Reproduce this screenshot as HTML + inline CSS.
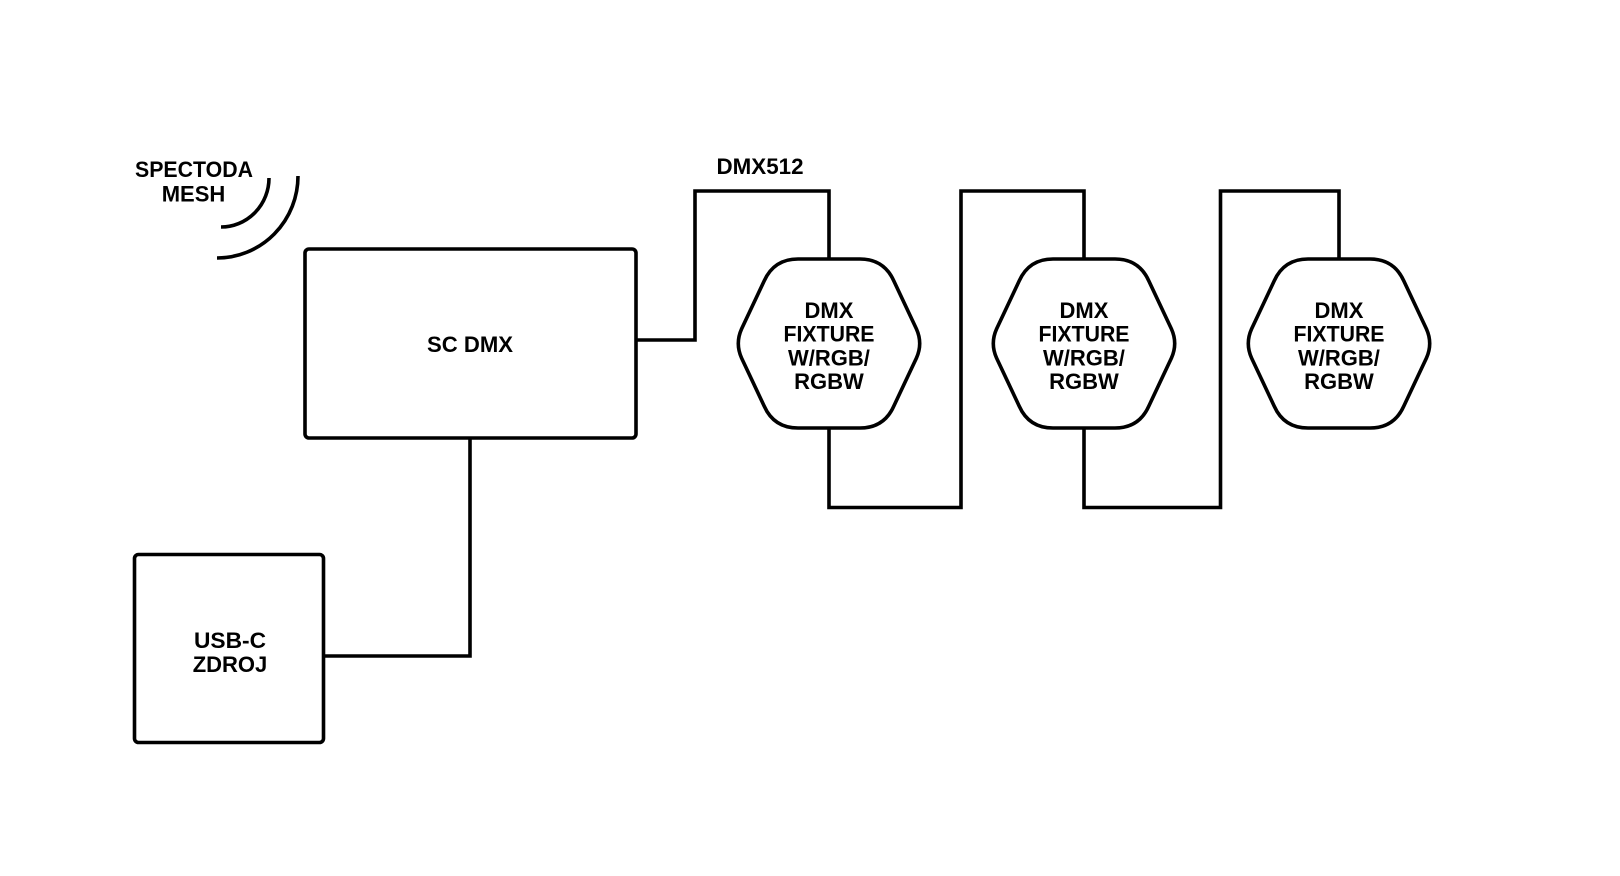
<!DOCTYPE html>
<html>
<head>
<meta charset="utf-8">
<style>
  html, body { margin: 0; padding: 0; background: #ffffff; }
  body { width: 1620px; height: 876px; overflow: hidden; }
  svg { display: block; }
  text { font-family: "Liberation Sans", Arial, sans-serif; font-weight: bold; font-size: 22px; fill: #000000; }
</style>
</head>
<body>
<svg width="1620" height="876" viewBox="0 0 1620 876" xmlns="http://www.w3.org/2000/svg">
  <rect x="0" y="0" width="1620" height="876" fill="#ffffff"/>

  <g fill="none" stroke="#000000" stroke-width="3.6" stroke-linejoin="miter" stroke-linecap="butt">
    <!-- wireless arcs -->
    <path d="M 298 176 A 81 82 0 0 1 217 258"/>
    <path d="M 269 178 A 48 49 0 0 1 221 227"/>

    <!-- SC DMX box -->
    <rect x="305" y="249" width="331" height="189" rx="4" ry="4"/>
    <!-- USB-C box -->
    <rect x="134.5" y="554.5" width="189" height="188" rx="4" ry="4"/>

    <!-- connectors -->
    <path d="M 636 340 H 695 V 191 H 829 V 259"/>
    <path d="M 829 428 V 507.5 H 961 V 191 H 1084 V 259"/>
    <path d="M 1084 428 V 507.5 H 1220.5 V 191 H 1339 V 259"/>
    <path d="M 470 438 V 656 H 323.5"/>

    <!-- hexagons -->
    <g transform="translate(829,0)">
      <path d="M -31 259 L 31 259 Q 55 259 64.8 280.9 L 87.4 328.9 Q 94 343.5 87.4 358.1 L 64.8 406.1 Q 55 428 31 428 L -31 428 Q -55 428 -64.8 406.1 L -87.4 358.1 Q -94 343.5 -87.4 328.9 L -64.8 280.9 Q -55 259 -31 259 Z"/>
    </g>
    <g transform="translate(1084,0)">
      <path d="M -31 259 L 31 259 Q 55 259 64.8 280.9 L 87.4 328.9 Q 94 343.5 87.4 358.1 L 64.8 406.1 Q 55 428 31 428 L -31 428 Q -55 428 -64.8 406.1 L -87.4 358.1 Q -94 343.5 -87.4 328.9 L -64.8 280.9 Q -55 259 -31 259 Z"/>
    </g>
    <g transform="translate(1339,0)">
      <path d="M -31 259 L 31 259 Q 55 259 64.8 280.9 L 87.4 328.9 Q 94 343.5 87.4 358.1 L 64.8 406.1 Q 55 428 31 428 L -31 428 Q -55 428 -64.8 406.1 L -87.4 358.1 Q -94 343.5 -87.4 328.9 L -64.8 280.9 Q -55 259 -31 259 Z"/>
    </g>
  </g>

  <!-- labels -->
  <g text-anchor="middle">
    <text x="194" y="177" textLength="118" lengthAdjust="spacingAndGlyphs">SPECTODA</text>
    <text x="193.5" y="201.5">MESH</text>

    <text x="760" y="174" textLength="87" lengthAdjust="spacingAndGlyphs">DMX512</text>

    <text x="470" y="352" textLength="86" lengthAdjust="spacingAndGlyphs">SC DMX</text>

    <text x="230" y="648" textLength="72" lengthAdjust="spacingAndGlyphs">USB-C</text>
    <text x="230" y="672">ZDROJ</text>

    <text x="829" y="318">DMX</text>
    <text x="829" y="341.7" textLength="91" lengthAdjust="spacingAndGlyphs">FIXTURE</text>
    <text x="829" y="365.3">W/RGB/</text>
    <text x="829" y="389">RGBW</text>

    <text x="1084" y="318">DMX</text>
    <text x="1084" y="341.7" textLength="91" lengthAdjust="spacingAndGlyphs">FIXTURE</text>
    <text x="1084" y="365.3">W/RGB/</text>
    <text x="1084" y="389">RGBW</text>

    <text x="1339" y="318">DMX</text>
    <text x="1339" y="341.7" textLength="91" lengthAdjust="spacingAndGlyphs">FIXTURE</text>
    <text x="1339" y="365.3">W/RGB/</text>
    <text x="1339" y="389">RGBW</text>
  </g>
</svg>
</body>
</html>
